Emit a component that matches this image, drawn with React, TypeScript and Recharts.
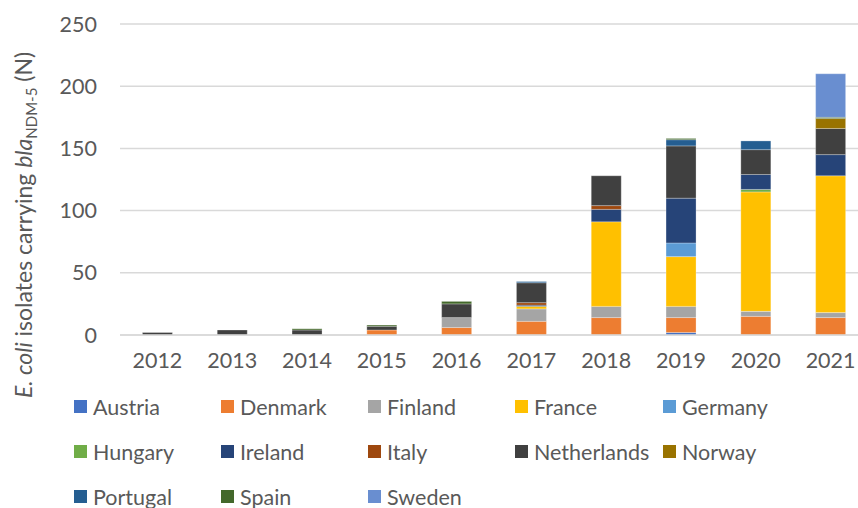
import React from "react";
import { BarChart, Bar, XAxis, YAxis, CartesianGrid } from "recharts";

const years = ["2012", "2013", "2014", "2015", "2016", "2017", "2018", "2019", "2020", "2021"];

const countries = [
  "Austria", "Denmark", "Finland", "France", "Germany", "Hungary", "Ireland",
  "Italy", "Netherlands", "Norway", "Portugal", "Spain", "Sweden",
];

const colors = [
  "#4472C4", "#ED7D31", "#A5A5A5", "#FFC000", "#5B9BD5", "#70AD47", "#264478",
  "#9E480E", "#404040", "#997300", "#255E91", "#43682B", "#698ED0",
];

const austria = [0, 0, 0, 0, 0, 0, 0, 2, 0, 0];
const denmark = [0, 0, 0, 4, 6, 11, 14, 12, 15, 14];
const finland = [0, 0, 0, 0, 8, 10, 9, 9, 4, 4];
const france = [0, 0, 0, 0, 0, 2, 68, 40, 96, 110];
const germany = [0, 0, 0, 0, 0, 0, 0, 11, 0, 0];
const hungary = [0, 0, 0, 0, 0, 0, 0, 0, 2, 0];
const ireland = [0, 0, 0, 0, 0, 1, 10, 36, 12, 17];
const italy = [0, 0, 0, 0, 0, 2, 3, 0, 0, 0];
const netherlands = [2, 4, 4, 3, 11, 16, 24, 42, 20, 21];
const norway = [0, 0, 0, 0, 0, 0, 0, 0, 0, 8];
const portugal = [0, 0, 0, 0, 0, 1, 0, 5, 7, 0];
const spain = [0, 0, 1, 1, 2, 0, 0, 1, 0, 1];
const sweden = [0, 0, 0, 0, 0, 0, 0, 0, 0, 35];

const yTicks = [0, 50, 100, 150, 200, 250];

const series = [austria, denmark, finland, france, germany, hungary, ireland, italy, netherlands, norway, portugal, spain, sweden];

const data = years.map((y, i) => {
  const row: Record<string, number | string> = { year: y };
  countries.forEach((c, k) => {
    row[c] = series[k][i];
  });
  return row;
});

const FONT = "Lato, 'Open Sans', sans-serif";
const TEXT = "#595959";

const YTitle = () => (
  <text
    x={32}
    y={225}
    transform="rotate(-90, 32, 225)"
    textAnchor="middle"
    fill={TEXT}
    fontFamily={FONT}
    fontSize={23}
  >
    <tspan fontStyle="italic">E. coli</tspan>
    <tspan> isolates carrying </tspan>
    <tspan fontStyle="italic">bla</tspan>
    <tspan fontSize={15} dy={5}>NDM-5</tspan>
    <tspan dy={-5}> (N)</tspan>
  </text>
);

export default function App() {
  return (
    <div style={{ position: "absolute", left: 0, top: 0, width: 858, height: 508, overflow: "hidden", background: "#fff" }}>
      <BarChart
        width={868}
        height={508}
        data={data}
        margin={{ top: 24, right: 0, left: 0, bottom: 0 }}
        barCategoryGap="30%"
      >
        <CartesianGrid vertical={false} stroke="#d9d9d9" strokeWidth={1.5} />
        <XAxis
          dataKey="year"
          height={173}
          tickLine={false}
          axisLine={{ stroke: "#d9d9d9", strokeWidth: 1.5 }}
          tickMargin={12}
          tick={{ fill: TEXT, fontSize: 21.5, fontFamily: FONT }}
          interval={0}
        />
        <YAxis
          width={120}
          domain={[0, 250]}
          ticks={yTicks}
          axisLine={false}
          tickLine={false}
          tickMargin={17}
          tick={{ fill: TEXT, fontSize: 21.5, fontFamily: FONT }}
          label={<YTitle />}
        />
        {countries.map((c, k) => (
          <Bar
            key={c}
            dataKey={c}
            stackId="a"
            fill={colors[k]}
            stroke="#ffffff"
            strokeOpacity={0.45}
            strokeWidth={0.6}
            isAnimationActive={false}
          />
        ))}
      </BarChart>
      <div
        style={{
          position: "absolute",
          left: 74,
          top: 384,
          display: "grid",
          gridTemplateColumns: "147px 147px 147px 148px 150px",
          gridAutoRows: "45px",
          fontFamily: FONT,
          fontSize: 21.5,
          color: TEXT,
        }}
      >
        {countries.map((c, k) => (
          <div key={c} style={{ display: "flex", alignItems: "center", whiteSpace: "nowrap" }}>
            <span style={{ width: 13, height: 13, background: colors[k], display: "inline-block", marginRight: 6 }} />
            <span>{c}</span>
          </div>
        ))}
      </div>
    </div>
  );
}
